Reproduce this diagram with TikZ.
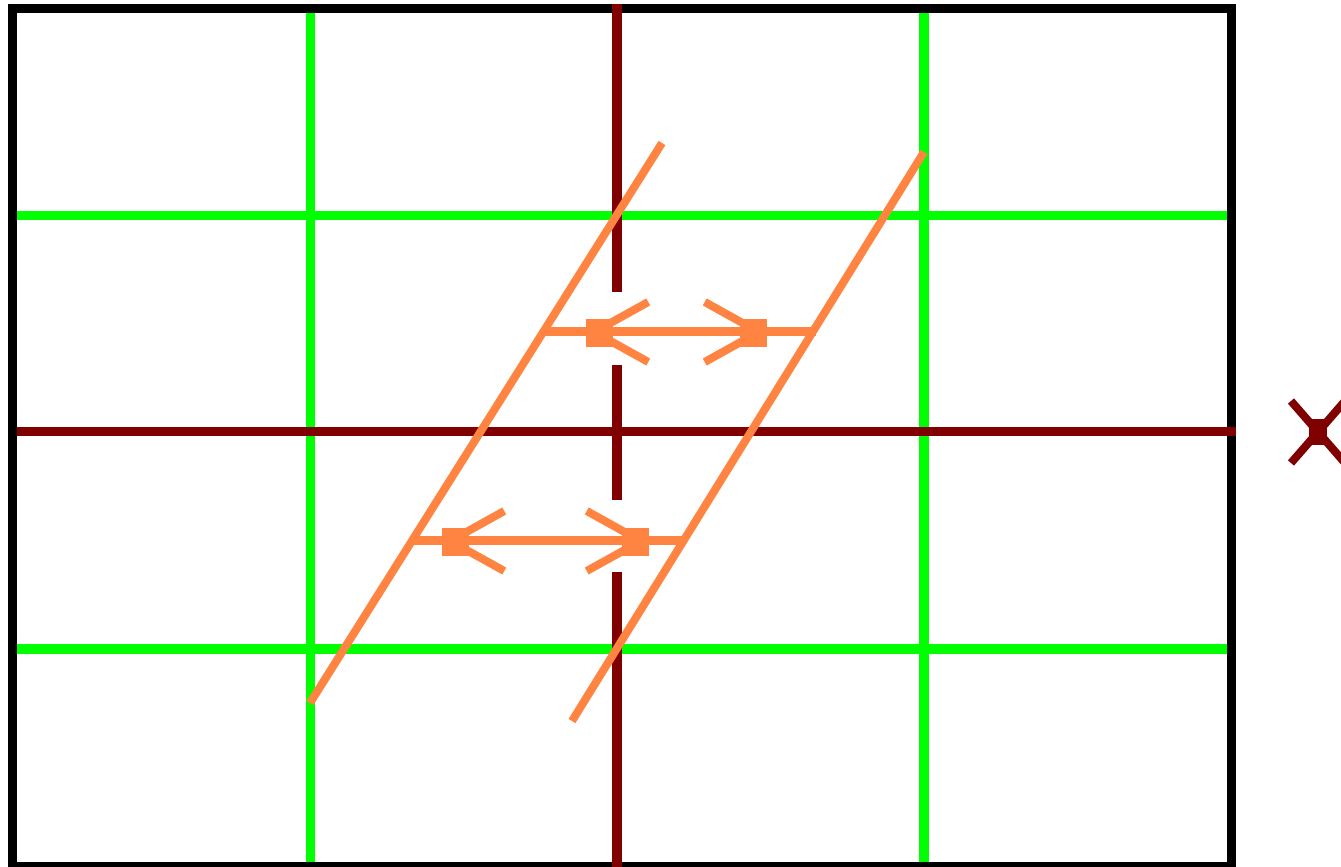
\documentclass[tikz,border=0pt]{standalone}
\usepackage{tikz}
\usetikzlibrary{arrows.meta,calc}
\definecolor{gridGreen}{HTML}{00FF00}
\definecolor{axisRed}{HTML}{800000}
\definecolor{guideOrange}{HTML}{FF8442}

\begin{document}
\begin{tikzpicture}[x=0.01cm,y=-0.01cm,
  frm/.style={draw=black,line width=0.09cm},
  grd/.style={draw=gridGreen,line width=0.09cm},
  axs/.style={draw=axisRed,line width=0.09cm},
  guide/.style={draw=guideOrange,line width=0.08cm},
  shiftarrow/.style={draw=guideOrange,line width=0.09cm,
    {Straight Barb[length=0.54cm,width=0.6cm,line width=0.08cm]}-{Straight Barb[length=0.54cm,width=0.6cm,line width=0.08cm]}}]
\useasboundingbox (0,0) rectangle (1341,867);
\fill[white] (0,0) rectangle (1341,867);
% thirds grid
\foreach \gx in {310.5,924}{
  \draw[grd] (\gx,13) -- (\gx,862);}
\foreach \gy in {216,649}{
  \draw[grd] (17,\gy) -- (1227,\gy);}
% frame and center axes
\draw[frm] (12.5,8.5) rectangle (1231.5,866.5);
\draw[axs] (617,4) -- (617,871);
\draw[axs] (17,432) -- (1236,432);
% slanted guides
\coordinate (g1a) at (310,703);
\coordinate (g1b) at (662,143);
\coordinate (g2a) at (572,721);
\coordinate (g2b) at (924,152);
\draw[guide] (g1a) -- (g1b);
\draw[guide] (g2a) -- (g2b);
% gaps in the center axis
\fill[white] (610,292) rectangle (624,365);
\fill[white] (610,500) rectangle (624,572);
% shift arrows
\coordinate (u1) at (543,332);
\coordinate (u2) at (816,332);
\coordinate (ua) at (586,332);
\coordinate (ub) at (767,332);
\coordinate (l1) at (410,541);
\coordinate (l2) at (684,541);
\coordinate (la) at (442,541);
\coordinate (lb) at (649,541);
\draw[guide,line width=0.09cm] (u1) -- (u2);
\draw[guide,line width=0.09cm] (l1) -- (l2);
\draw[shiftarrow] (ua) -- (ub);
\draw[shiftarrow] (la) -- (lb);
\fill[guideOrange] (586,319) rectangle (613,347);
\fill[guideOrange] (740,319) rectangle (767,347);
\fill[guideOrange] (442,528) rectangle (469,556);
\fill[guideOrange] (622,528) rectangle (649,556);
% vanishing mark
\coordinate (vp) at (1318,432);
\draw[axisRed,line width=0.08cm] ($(vp)+(-27,-31)$) -- ($(vp)+(27,31)$);
\draw[axisRed,line width=0.08cm] ($(vp)+(-27,31)$) -- ($(vp)+(27,-31)$);
\fill[axisRed] ($(vp)+(-9,-13)$) rectangle ($(vp)+(9,13)$);
\end{tikzpicture}
\end{document}
